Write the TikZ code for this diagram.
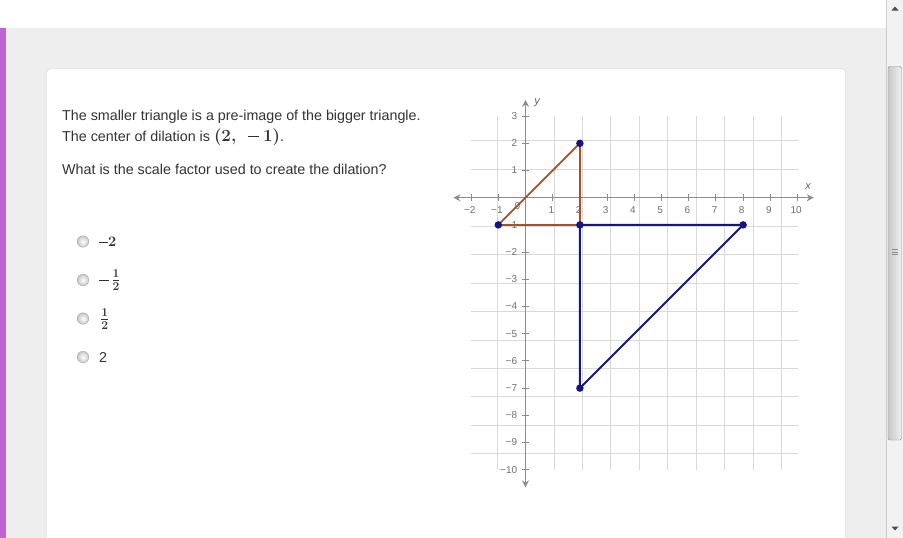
\documentclass[tikz,border=0pt]{standalone}
\usepackage[no-math]{fontspec}
\newfontfamily\arial{Liberation Sans}
\usetikzlibrary{arrows.meta}
\definecolor{bgc}{HTML}{EEEEEE}
\definecolor{purp}{RGB}{190,98,212}
\definecolor{cardb}{HTML}{CFCFCF}
\definecolor{txtc}{HTML}{333333}
\definecolor{gridc}{HTML}{D9D9D9}
\definecolor{axc}{HTML}{8C8C8C}
\definecolor{labc}{HTML}{707070}
\definecolor{brownc}{RGB}{168,80,36}
\definecolor{navyc}{RGB}{22,22,130}
\definecolor{sbtrack}{HTML}{F2F2F2}
\definecolor{sbline}{HTML}{CDCDCD}
\newcommand{\bminus}{\rule[0.23em]{0.62em}{0.07em}}
\tikzset{
  txt/.style={font=\arial\fontsize{14.3}{17}\selectfont, text=txtc, inner sep=0pt},
  mathtxt/.style={font=\rmfamily\bfseries\fontsize{14.5}{17}\selectfont, text=txtc, inner sep=0pt},
  fractxt/.style={font=\rmfamily\bfseries\fontsize{16.5}{19}\selectfont, text=txtc, inner sep=0pt},
  ticklab/.style={font=\arial\fontsize{10}{12}\selectfont, text=labc, inner sep=0pt},
  axlab/.style={font=\arial\itshape\fontsize{11}{13}\selectfont, text=labc!90!black, inner sep=0pt},
  axisline/.style={draw=axc, line width=1.5pt, {Stealth[length=7pt,width=7pt]}-{Stealth[length=7pt,width=7pt]}},
  tickline/.style={draw=axc, line width=0.9pt},
  brownline/.style={draw=brownc, line width=1.8pt, line join=round},
  navyline/.style={draw=navyc, line width=2pt, line join=round},
  vdot/.style={circle, fill=navyc, inner sep=0pt, minimum size=7.5pt},
  radio/.style={circle, draw=black!35, inner color=white, outer color=black!22, inner sep=0pt, minimum size=11.5pt},
}
\begin{document}
\begin{tikzpicture}[x=1pt,y=-1pt]
\useasboundingbox (0,0) rectangle (903,538);
% background
\fill[white] (0,0) rectangle (903,28);
\fill[bgc] (0,28) rectangle (886,538);
\fill[purp] (0,28) rectangle (6,538);
% card
\draw[cardb, fill=white, rounded corners=4pt] (46.5,68.5) rectangle (845.5,560);
% scrollbar
\fill[sbtrack] (886,0) rectangle (903,538);
\draw[sbline] (886.5,0) -- (886.5,538);
\draw[black!45, left color=black!22, right color=black!6, rounded corners=1.5pt] (888,66.5) rectangle (901.5,440);
\foreach \yy in {249.5,252,254.5} \draw[black!45, line width=0.8pt] (892,\yy) -- (898,\yy);
\fill[black!70] (891.5,10.5) -- (898.5,10.5) -- (895,6.5) -- cycle;
\fill[black!70] (891.5,526.5) -- (898.5,526.5) -- (895,530.5) -- cycle;

% question text
\node[txt, anchor=base west] (q1) at (62,120) {The smaller triangle is a pre-image of the bigger triangle.};
\node[txt, anchor=base west] (q2) at (62,141) {The center of dilation is {\rmfamily\bfseries\fontsize{17}{19}\selectfont(2,\hspace{0.7em}\bminus\hspace{0.25em}1)}.};
\node[txt, anchor=base west] (q3) at (62,174) {What is the scale factor used to create the dilation?};

% options
\node[radio] (r1) at (83,241.5) {};
\node[radio] (r2) at (83,280) {};
\node[radio] (r3) at (83,318.5) {};
\node[radio] (r4) at (83,357) {};
\node[mathtxt, anchor=base west] (o1) at (99,246.5) {\bminus2};
\node[fractxt, anchor=west] (o2) at (99,280.5) {\bminus\hspace{0.12em}$\mathbf{\frac{1}{2}}$};
\node[fractxt, anchor=west] (o3) at (100,319) {$\mathbf{\frac{1}{2}}$};
\node[txt, anchor=base west] (o4) at (99,362) {2};

% graph
\begin{scope}[shift={(525.5,197.7)}, x=27.2pt, y=27.2pt]
  \draw[gridc, line width=0.8pt] (-2,-10) grid (10,3);
  \coordinate (xl) at (-2.65,0);
  \coordinate (xr) at (10.6,0);
  \coordinate (yb) at (0,-10.65);
  \coordinate (yt) at (0,3.6);
  \draw[axisline] (xl) -- (xr);
  \draw[axisline] (yb) -- (yt);
  \foreach \v in {-2,-1,1,2,3,4,5,6,7,8,9,10}
    \draw[tickline] (\v,-0.12) -- (\v,0.12);
  \foreach \v in {-10,-9,-8,-7,-6,-5,-4,-3,-2,-1,1,2,3}
    \draw[tickline] (-0.12,\v) -- (0.12,\v);
  \foreach \v/\t [count=\k] in {-2/−2,-1/−1,1/1,2/2,3/3,4/4,5/5,6/6,7/7,8/8,9/9,10/10}
    \node[ticklab] (xlab\k) at (\v-0.05,-0.45) {\t};
  \foreach \v/\t [count=\k] in {-10/−10,-9/−9,-8/−8,-7/−7,-6/−6,-5/−5,-4/−4,-3/−3,-2/−2,-1/−1,1/1,2/2,3/3}
    \node[ticklab, anchor=east] (ylab\k) at (-0.3,\v) {\t};
  \node[ticklab] (zlab) at (-0.3,-0.3) {0};
  \node[axlab] (xname) at (10.39,0.42) {x};
  \node[axlab] (yname) at (0.43,3.5) {y};
  % triangles
  \coordinate (A) at (-1,-1);
  \coordinate (B) at (2,2);
  \coordinate (C) at (2,-1);
  \coordinate (D) at (8,-1);
  \coordinate (E) at (2,-7);
  \draw[brownline] (A) -- (B) -- (C) -- cycle;
  \draw[navyline] (C) -- (D) -- (E) -- cycle;
  \node[vdot] (dA) at (A) {};
  \node[vdot] (dB) at (B) {};
  \node[vdot] (dC) at (C) {};
  \node[vdot] (dD) at (D) {};
  \node[vdot] (dE) at (E) {};
\end{scope}
\end{tikzpicture}
\end{document}
